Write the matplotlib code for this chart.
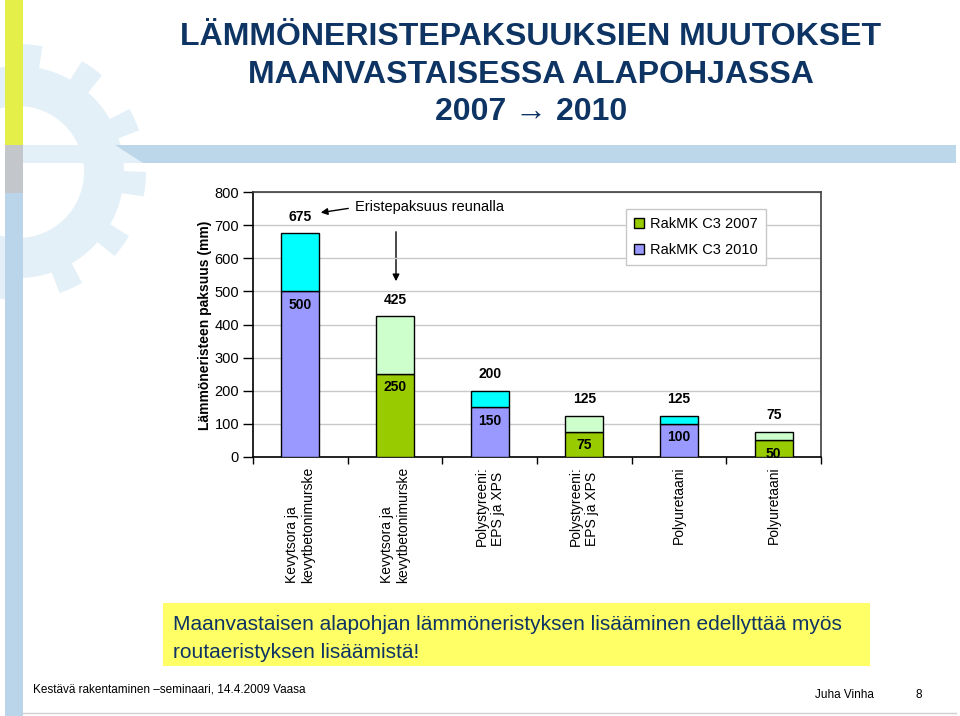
#!/usr/bin/env python3

import numpy as np
import matplotlib
matplotlib.use("Agg")
import matplotlib.pyplot as plt
from matplotlib import font_manager
from matplotlib.patches import Polygon, Rectangle, Circle

installed = {f.name for f in font_manager.fontManager.ttflist}
narrow = "Liberation Sans Narrow" if "Liberation Sans Narrow" in installed else "Liberation Sans"
plt.rcParams['font.family'] = ['Liberation Sans', 'DejaVu Sans']

# data
categories = ["Kevytsora ja\nkevytbetonimurske", "Kevytsora ja\nkevytbetonimurske",
              "Polystyreeni:\nEPS ja XPS", "Polystyreeni:\nEPS ja XPS",
              "Polyuretaani", "Polyuretaani"]
standard = ["2010", "2007", "2010", "2007", "2010", "2007"]
base_values = [500, 250, 150, 75, 100, 50]
edge_values = [675, 425, 200, 125, 125, 75]
y_ticks = [0, 100, 200, 300, 400, 500, 600, 700, 800]

base_color = {"2010": "#9999FF", "2007": "#99CC00"}
top_color = {"2010": "#00FFFF", "2007": "#CCFFCC"}
navy = "#0E3464"

fig = plt.figure(figsize=(9.6, 7.16), dpi=100)

# background decorations in pixel coordinates
bg = fig.add_axes([0, 0, 1, 1])
bg.set_xlim(0, 960)
bg.set_ylim(716, 0)
bg.axis('off')

gear_col = "#E4F0F8"
cx, cy = 18, 172
ang = np.linspace(0, 2 * np.pi, 721)
n_teeth = 12
phase = (ang * n_teeth / (2 * np.pi)) % 1.0
r = np.where(phase < 0.38, 128, 106)
bg.add_patch(Polygon(np.column_stack([cx + r * np.cos(ang), cy + r * np.sin(ang)]),
                     closed=True, facecolor=gear_col, edgecolor='none', zorder=1))
bg.add_patch(Circle((cx, cy), 66, facecolor='white', edgecolor='none', zorder=1.5))
bg.add_patch(Rectangle((23, 145), 130, 18, facecolor=gear_col, edgecolor='none', zorder=2))
bg.add_patch(Polygon([(115, 145), (956, 145), (956, 163), (143, 163)], closed=True,
                     facecolor="#BCD6EA", edgecolor='none', zorder=2))
bg.add_patch(Rectangle((5, 0), 18, 145, facecolor="#E5EF4A", edgecolor='none', zorder=3))
bg.add_patch(Rectangle((5, 145), 18, 48, facecolor="#C3C6CA", edgecolor='none', zorder=3))
bg.add_patch(Rectangle((5, 193), 18, 523, facecolor="#BAD5EA", edgecolor='none', zorder=3))
bg.plot([23, 956], [713, 713], color="#D0D0D0", lw=1, zorder=3)

# title
title_lines = ["LÄMMÖNERISTEPAKSUUKSIEN MUUTOKSET", "MAANVASTAISESSA ALAPOHJASSA",
               "2007 \u2192 2010"]
for line, yy in zip(title_lines, [37, 75, 112]):
    bg.text(531, yy, line, ha='center', va='center', fontsize=23, fontweight='bold',
            color=navy, family=[narrow, 'DejaVu Sans'], zorder=4)

# yellow note box
bg.add_patch(Rectangle((163, 603), 707, 63, facecolor="#FFFF66", edgecolor='none', zorder=3))
bg.text(173, 624, "Maanvastaisen alapohjan lämmöneristyksen lisääminen edellyttää myös",
        ha='left', va='center', fontsize=15, color=navy, zorder=4)
bg.text(173, 652, "routaeristyksen lisäämistä!", ha='left', va='center', fontsize=15,
        color=navy, zorder=4)

# footer
bg.text(33, 690, "Kestävä rakentaminen –seminaari, 14.4.2009 Vaasa", ha='left', va='center',
        fontsize=8.5, color='black', zorder=4)
bg.text(815, 695, "Juha Vinha", ha='left', va='center', fontsize=8.5, color='black', zorder=4)
bg.text(919, 695, "8", ha='center', va='center', fontsize=8.5, color='black', zorder=4)

# y label
bg.text(205, 325, "Lämmöneristeen paksuus (mm)", rotation=90, ha='center', va='center',
        fontsize=10, fontweight='bold', zorder=4)

# annotation arrows
bg.text(355, 207, "Eristepaksuus reunalla", ha='left', va='center', fontsize=10.5, zorder=4)
bg.annotate("", xy=(318, 213), xytext=(351, 208),
            arrowprops=dict(arrowstyle='-|>', color='black', lw=1, mutation_scale=10), zorder=4)
bg.annotate("", xy=(396, 284), xytext=(396, 229),
            arrowprops=dict(arrowstyle='-|>', color='black', lw=1, mutation_scale=10), zorder=4)

# chart
ax = fig.add_axes([253 / 960, 1 - 457 / 716, (821 - 253) / 960, (457 - 192) / 716])
ax.patch.set_alpha(0)
x = np.arange(len(categories))
w = 0.4
for i in x:
    s = standard[i]
    ax.bar(i, base_values[i], width=w, color=base_color[s], edgecolor='black', lw=1, zorder=3)
    ax.bar(i, edge_values[i] - base_values[i], bottom=base_values[i], width=w,
           color=top_color[s], edgecolor='black', lw=1, zorder=3)
    ax.annotate(str(base_values[i]), (i, base_values[i]), xytext=(0, -9.5),
                textcoords='offset points', ha='center', va='center', fontsize=10,
                fontweight='bold', zorder=4)
    ax.annotate(str(edge_values[i]), (i, edge_values[i]), xytext=(0, 12),
                textcoords='offset points', ha='center', va='center', fontsize=10,
                fontweight='bold', zorder=4)

ax.set_xlim(-0.5, len(categories) - 0.5)
ax.set_ylim(0, 800)
ax.set_yticks(y_ticks)
ax.set_yticklabels([str(v) for v in y_ticks], fontsize=10.5)
ax.yaxis.grid(True, color="#C8C8C8", lw=1, zorder=0)
ax.tick_params(axis='y', direction='out', length=7, width=1, pad=3)

ax.set_xticks(x)
ax.set_xticklabels(categories, rotation=90, va='top', ha='center', multialignment='left',
                   fontsize=10)
ax.set_xticks(np.arange(len(categories) + 1) - 0.5, minor=True)
ax.tick_params(axis='x', which='major', length=0, pad=7)
ax.tick_params(axis='x', which='minor', direction='out', length=5, width=1)

for side in ['left', 'bottom']:
    ax.spines[side].set_color('black')
    ax.spines[side].set_linewidth(1.2)
for side in ['top', 'right']:
    ax.spines[side].set_color('#404040')
    ax.spines[side].set_linewidth(1.2)

handles = [Rectangle((0, 0), 1, 1, facecolor=base_color["2007"], edgecolor='black', lw=1),
           Rectangle((0, 0), 1, 1, facecolor=base_color["2010"], edgecolor='black', lw=1)]
leg = ax.legend(handles, ["RakMK C3 2007", "RakMK C3 2010"], loc='upper left',
                bbox_to_anchor=(626 / 960, 1 - 209 / 716), bbox_transform=fig.transFigure,
                fontsize=10.5, frameon=True, fancybox=False, framealpha=1,
                edgecolor="#C8C8C8", handlelength=0.7, handleheight=0.7,
                handletextpad=0.4, labelspacing=0.85, borderpad=0.55,
                borderaxespad=0)
leg.get_frame().set_linewidth(1)
leg.set_zorder(5)

fig.savefig("out.png", dpi=100)
